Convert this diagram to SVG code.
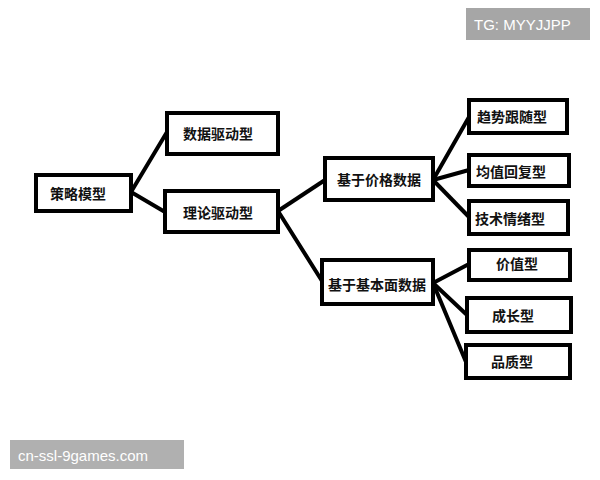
<svg xmlns="http://www.w3.org/2000/svg" width="600" height="480" viewBox="0 0 600 480">
<style>
.n rect{fill:#fff;stroke:#000;stroke-width:4}
.n text{font-family:"Noto Sans CJK SC",sans-serif;font-size:14px;font-weight:bold;text-anchor:middle;dominant-baseline:central;fill:#111}
#edges line{stroke:#000;stroke-width:4;stroke-linecap:round}
.wm text{font-family:"Liberation Sans",sans-serif;font-size:15px;fill:#fff;dominant-baseline:central}
</style>
<rect width="600" height="480" fill="#fff"/>
<g id="edges">
<line x1="131" y1="192" x2="167" y2="132"/>
<line x1="131" y1="192" x2="165" y2="212"/>
<line x1="278" y1="211" x2="325" y2="180"/>
<line x1="278" y1="211" x2="322" y2="281"/>
<line x1="433" y1="180" x2="469" y2="117"/>
<line x1="433" y1="180" x2="469" y2="170"/>
<line x1="433" y1="180" x2="469" y2="217"/>
<line x1="433" y1="283" x2="469" y2="264"/>
<line x1="433" y1="283" x2="467" y2="315"/>
<line x1="433" y1="283" x2="466" y2="362"/>
</g>
<g id="n1" class="n"><rect x="36" y="175" width="95" height="36"/><text x="78" y="193">策略模型</text></g>
<g id="n2" class="n"><rect x="167" y="113" width="111" height="41"/><text x="218" y="133">数据驱动型</text></g>
<g id="n3" class="n"><rect x="165" y="191" width="113" height="41"/><text x="218" y="212">理论驱动型</text></g>
<g id="n4" class="n"><rect x="325" y="158" width="108" height="42"/><text x="379" y="179">基于价格数据</text></g>
<g id="n5" class="n"><rect x="322" y="260" width="111" height="44"/><text x="377" y="284">基于基本面数据</text></g>
<g id="n6" class="n"><rect x="469" y="100" width="98" height="33"/><text x="512" y="116">趋势跟随型</text></g>
<g id="n7" class="n"><rect x="469" y="155" width="100" height="31"/><text x="511" y="171">均值回复型</text></g>
<g id="n8" class="n"><rect x="469" y="201" width="99" height="33"/><text x="510" y="218">技术情绪型</text></g>
<g id="n9" class="n"><rect x="469" y="250" width="101" height="30"/><text x="517" y="263">价值型</text></g>
<g id="n10" class="n"><rect x="467" y="298" width="104" height="34"/><text x="513" y="315">成长型</text></g>
<g id="n11" class="n"><rect x="466" y="345" width="104" height="33"/><text x="512" y="361">品质型</text></g>
<g class="wm"><rect x="466" y="8" width="124" height="32" fill="#a6a6a6"/><text x="474" y="24">TG: MYYJJPP</text></g>
<g class="wm"><rect x="10" y="440" width="174" height="29" fill="#b0b0b0"/><text x="18" y="455">cn-ssl-9games.com</text></g>
</svg>
